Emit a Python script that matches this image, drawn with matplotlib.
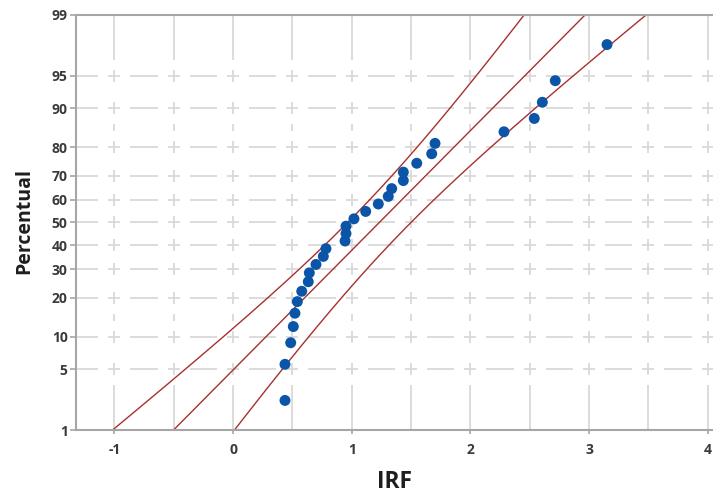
import matplotlib
matplotlib.use("Agg")
import matplotlib.pyplot as plt
from matplotlib.collections import LineCollection
import numpy as np
from statistics import NormalDist

# IRF observations
irf = [0.438, 0.438, 0.486, 0.508, 0.522, 0.542, 0.579, 0.634, 0.643, 0.699,
       0.761, 0.783, 0.944, 0.952, 0.952, 1.019, 1.118, 1.224, 1.308, 1.337,
       1.435, 1.435, 1.548, 1.674, 1.702, 2.283, 2.538, 2.606, 2.715, 3.151]
pct_ticks = [1, 5, 10, 20, 30, 40, 50, 60, 70, 80, 90, 95, 99]
x_ticks = [-1, 0, 1, 2, 3, 4]
x_grid_step = 0.5
confidence = 0.95

plt.rcParams['font.family'] = ['Open Sans', 'DejaVu Sans']

nd = NormalDist()
zf = nd.inv_cdf

# normal probability plot positions (median ranks)
xs = np.sort(np.array(irf))
n = len(xs)
ranks = np.arange(1, n + 1)
zs = np.array([zf(p) for p in (ranks - 0.3) / (n + 0.4)])

# ML fit and percentile confidence bands
mu = xs.mean()
sigma = xs.std()
zc = zf(0.5 + confidence / 2)
zgrid = np.linspace(zf(0.0005), zf(0.9995), 500)
fit = mu + zgrid * sigma
half = zc * sigma * np.sqrt(1.0 / n + zgrid ** 2 / (2.0 * n))

W, H = 713, 494
fig = plt.figure(figsize=(W / 100, H / 100), dpi=100)
L, R, T, B = 76, 714, 15, 430
ax = fig.add_axes([L / W, 1 - B / H, (R - L) / W, (B - T) / H])
x0, sx = 233.0, 118.7
xlo, xhi = (L - x0) / sx, (R - x0) / sx
zlo, zhi = zf(pct_ticks[0] / 100), zf(pct_ticks[-1] / 100)
ax.set_xlim(xlo, xhi)
ax.set_ylim(zlo, zhi)

def px_to_x(p):
    return (p - x0) / sx

def py_to_z(p):
    return zhi - (p - T) / (B - T) * (zhi - zlo)

def x_to_px(v):
    return x0 + v * sx

def z_to_py(v):
    return T + (zhi - v) / (zhi - zlo) * (B - T)

def dash_runs(lo, hi, crosses, h=6.0, g=10.0, mind=5.0):
    anchors = [(lo, 0.0, 0.0)] + [(c, h, g) for c in crosses] + [(hi, 0.0, 0.0)]
    runs = []
    for c, hh, gg in anchors[1:-1]:
        runs.append((max(lo, c - hh), min(hi, c + hh)))
    for (a, ha, ga), (b, hb, gb) in zip(anchors[:-1], anchors[1:]):
        s, e = a + ha + ga, b - hb - gb
        if e - s >= mind:
            runs.append((s, e))
    return runs

# Cross-hatched dashed grid
vx = np.arange(x_ticks[0], x_ticks[-1] + 1e-9, x_grid_step)
vpx = [x_to_px(v) for v in vx]
hz = [zf(p / 100) for p in pct_ticks[1:-1]]
hpy = sorted(z_to_py(v) for v in hz)
segs = []
for py in hpy:
    zz = py_to_z(py)
    for s, e in dash_runs(L, R, vpx):
        segs.append([(px_to_x(s), zz), (px_to_x(e), zz)])
for px in vpx:
    xx = px_to_x(px)
    for s, e in dash_runs(T, B, hpy):
        segs.append([(xx, py_to_z(s)), (xx, py_to_z(e))])
ax.add_collection(LineCollection(segs, colors='#D9D9D9', linewidths=1.3, zorder=0))

line_color = '#A8302E'
ax.plot(fit, zgrid, color=line_color, lw=1.0, zorder=2)
ax.plot(fit - half, zgrid, color=line_color, lw=1.0, zorder=2)
ax.plot(fit + half, zgrid, color=line_color, lw=1.0, zorder=2)

ax.scatter(xs, zs, s=62, color='#0B55A8', edgecolors='none', zorder=3)

ax.set_yticks([zf(p / 100) for p in pct_ticks])
ax.set_yticklabels([str(p) for p in pct_ticks])
ax.set_xticks(x_ticks)
ax.set_xticklabels([str(v) for v in x_ticks])

spine_color = '#A6A6A6'
for side in ['left', 'bottom', 'top']:
    ax.spines[side].set_color(spine_color)
    ax.spines[side].set_linewidth(1.5)
ax.spines['right'].set_visible(False)

ax.tick_params(axis='y', length=4, width=1.2, color=spine_color, pad=2,
               labelsize=10, labelcolor='#3A3A3A')
ax.tick_params(axis='x', length=3, width=1.2, color=spine_color, pad=6,
               labelsize=10, labelcolor='#3A3A3A')
for lab in ax.get_xticklabels() + ax.get_yticklabels():
    lab.set_fontweight('bold')

fig.text(24 / W, 1 - 221 / H, 'Percentual', rotation=90, ha='center', va='center',
         fontsize=14, fontweight='bold', color='#1E1E1E')
fig.text(395 / W, 1 - 488 / H, 'IRF', ha='center', va='baseline',
         fontsize=16.5, fontweight='bold', color='#1E1E1E')

fig.savefig('out.png', dpi=100)
